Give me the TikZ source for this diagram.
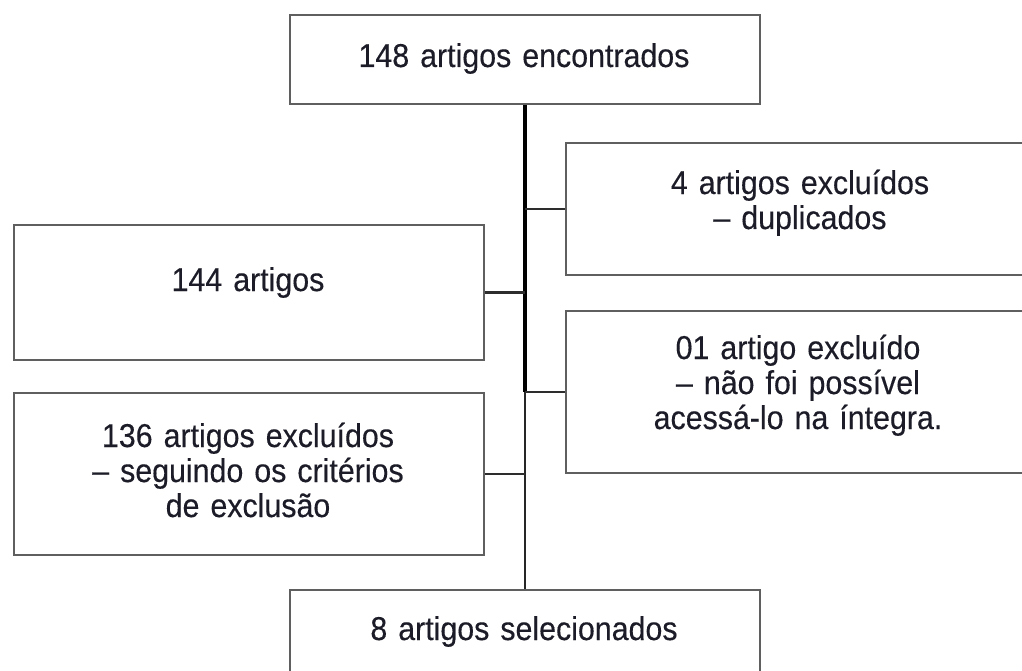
\documentclass[tikz,border=0pt]{standalone}
\usepackage{fontspec}
\setmainfont{Liberation Sans}[FakeStretch=0.92, FakeBold=0.3]
\definecolor{boxline}{RGB}{95,95,95}
\definecolor{connline}{RGB}{45,45,45}
\definecolor{txtcol}{RGB}{28,28,40}
\begin{document}
\begin{tikzpicture}[x=1pt,y=-1pt,
  flowbox/.style={draw=boxline, line width=2pt, fill=white, minimum width=470pt, inner sep=0pt, anchor=north west},
  flowtext/.style={anchor=base, inner sep=0pt, text width=460pt, align=center, text=txtcol, font=\fontsize{33}{35}\selectfont},
  trunkA/.style={draw=black, line width=3.4pt},
  trunkB/.style={draw=black!85, line width=2.6pt},
  branch/.style={draw=connline, line width=2.2pt}]
\useasboundingbox (0,0) rectangle (1022,671);
\clip (0,0) rectangle (1022,671);
\fill[white] (0,0) rectangle (1022,671);
\node[flowbox, minimum height=89pt] (top) at (289,14) {};
\node[flowbox, minimum height=89pt] (bot) at (289,589) {};
\node[flowbox, minimum height=132pt] (right1) at (565,142) {};
\node[flowbox, minimum height=135pt] (left1) at (13,224) {};
\node[flowbox, minimum height=162pt] (right2) at (565,310) {};
\node[flowbox, minimum height=162pt] (left2) at (13,392) {};
\coordinate (j3) at (right2.west -| top.south);
\draw[trunkA] (top.south) -- (j3);
\draw[trunkB] (j3) -- (bot.north);
\draw[branch] (right1.west) -- (right1.west -| top.south);
\draw[branch] (left1.east) -- (left1.east -| top.south);
\draw[branch] (right2.west) -- (j3);
\draw[branch] (left2.east) -- (left2.east -| top.south);
\node[flowtext] (toptext) at (524,67) {148 artigos encontrados};
\node[flowtext] (right1text) at (800,194) {4 artigos excluídos\\– duplicados};
\node[flowtext] (left1text) at (248,291) {144 artigos};
\node[flowtext] (right2text) at (798,359) {01 artigo excluído\\– não foi possível\\acessá-lo na íntegra.};
\node[flowtext] (left2text) at (248,447) {136 artigos excluídos\\– seguindo os critérios\\de exclusão};
\node[flowtext] (bottext) at (524,640) {8 artigos selecionados};
\end{tikzpicture}
\end{document}
